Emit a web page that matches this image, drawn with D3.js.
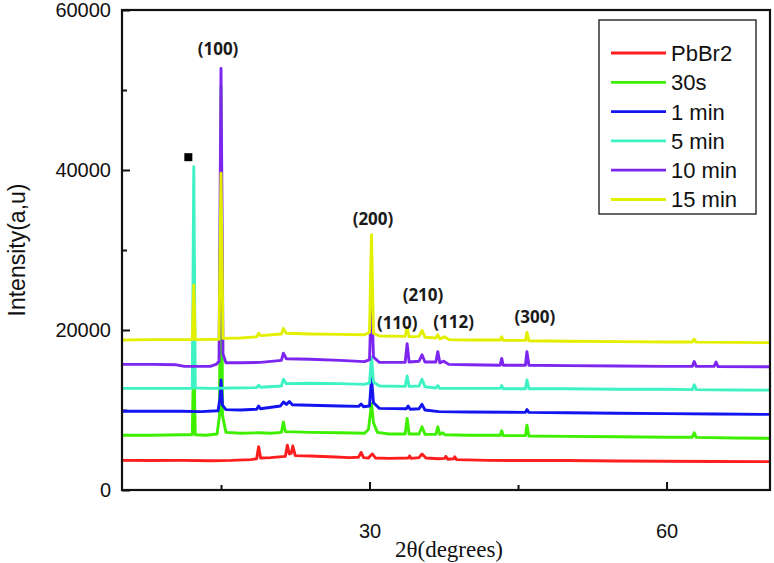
<!DOCTYPE html>
<html>
<head>
<meta charset="utf-8">
<script src="https://cdn.jsdelivr.net/npm/d3@7"></script>
<style>
  body { margin: 0; background: #fff; }
  svg { display: block; }
  .tick text { font-family: "Liberation Sans", Arial, sans-serif; font-size: 20px; fill: #111; }
</style>
</head>
<body>
<svg id="chart" width="774" height="563"></svg>
<script>
// XRD patterns, [2theta, intensity]
const pbbr2 = [
  [5, 3700], [8, 3680], [11, 3700], [14, 3660], [16, 3700], [18.0, 3800], [18.6, 3900], [18.8, 5400], [19.0, 4000],
  [20, 4050], [21.5, 4200], [21.7, 5600], [21.9, 4500], [22.1, 4600], [22.25, 5500], [22.5, 4300], [24, 4250],
  [26, 4150], [28, 4050], [28.9, 4100], [29.15, 4700], [29.4, 4050], [29.9, 4000], [30.1, 4300], [30.3, 4500],
  [30.6, 4000], [32, 3950], [33.9, 4000], [34.05, 4250], [34.2, 3950], [35.0, 4050], [35.3, 4500], [35.7, 4000],
  [37.0, 3900], [37.6, 3950], [37.7, 4200], [37.9, 3850], [38.5, 3900], [38.6, 4150], [38.8, 3800], [42, 3700],
  [50, 3680], [55, 3620], [60, 3600], [65, 3560], [70.5, 3550],
]
const s30 = [
  [5, 6850], [8, 6850], [11, 6900], [12.1, 6900], [12.25, 18000], [12.4, 6900], [13.5, 6850], [14.6, 7000],
  [14.85, 9300], [15.0, 50400], [15.15, 9300], [15.5, 7200], [17, 7100], [18.8, 7150], [20, 7100], [21.1, 7200],
  [21.3, 8500], [21.5, 7300], [24, 7200], [27, 7150], [29.5, 7100], [29.9, 7600], [30.2, 10800], [30.4, 8400],
  [30.8, 7200], [32, 7000], [33.6, 7000], [33.8, 8950], [34, 7000], [35.0, 7000], [35.3, 7900], [35.6, 6950],
  [36.7, 6950], [36.9, 7900], [37.1, 6950], [37.4, 7150], [37.6, 6900], [40, 6850], [43.2, 6850], [43.35, 7400],
  [43.5, 6800], [45.75, 6800], [45.9, 8100], [46.1, 6750], [50, 6700], [55, 6650], [60, 6600], [62.6, 6600],
  [62.8, 7150], [63, 6580], [67, 6500], [70.5, 6450],
]
const min1 = [
  [5, 9850], [8, 9850], [11, 9850], [13, 9800], [14.7, 9900], [14.9, 11500], [15.0, 13750], [15.15, 10600],
  [15.5, 10050], [17, 10000], [18.6, 10100], [18.8, 10500], [19.0, 10150], [21.0, 10500], [21.3, 11000],
  [21.6, 10700], [21.9, 11050], [22.2, 10650], [24, 10600], [27, 10500], [28.9, 10450], [29.15, 10750],
  [29.4, 10400], [30.0, 10500], [30.2, 14000], [30.4, 10900], [31, 10200], [33.7, 10150], [33.9, 10500],
  [34.1, 10100], [35.0, 10150], [35.3, 10700], [35.6, 10000], [37, 9800], [40, 9750], [45.75, 9700],
  [45.9, 10050], [46.1, 9700], [50, 9650], [55, 9600], [60, 9550], [65, 9500], [70.5, 9450],
]
const min5 = [
  [5, 12700], [8, 12700], [11, 12700], [12.1, 12700], [12.25, 40400], [12.4, 12750], [14, 12700], [16, 12750],
  [18.6, 12800], [18.8, 13100], [19.0, 12850], [21.1, 13000], [21.3, 13850], [21.6, 13300], [24, 13350],
  [27, 13300], [29.5, 13200], [30.0, 13400], [30.2, 16600], [30.4, 13500], [31, 13000], [33.6, 12950],
  [33.8, 14250], [34.0, 12950], [35.0, 13000], [35.3, 13850], [35.6, 12900], [36.7, 12750], [36.9, 13050],
  [37.1, 12700], [40, 12700], [43.2, 12700], [43.35, 13050], [43.5, 12650], [45.75, 12650], [45.9, 13750],
  [46.1, 12650], [50, 12650], [55, 12600], [60, 12600], [62.6, 12550], [62.8, 13150], [63, 12550], [67, 12500],
  [70.5, 12480],
]
const min10 = [
  [5, 15700], [8, 15700], [10.5, 15650], [11.3, 15450], [13.9, 15450], [14.5, 15700], [14.8, 16100],
  [15.0, 52700], [15.12, 32000], [15.2, 17000], [15.5, 15900], [17, 15900], [19, 15950], [21.1, 16200],
  [21.3, 17100], [21.6, 16400], [24, 16350], [27, 16200], [29.5, 16050], [30.0, 16300], [30.2, 24500],
  [30.4, 16600], [31, 15950], [33.6, 15950], [33.8, 18300], [34.0, 16000], [35.0, 16100], [35.3, 16900],
  [35.6, 16000], [36.7, 16000], [36.9, 17300], [37.1, 15900], [37.5, 16100], [38, 15700], [40, 15650],
  [43.2, 15600], [43.35, 16450], [43.5, 15600], [45.75, 15600], [45.9, 17300], [46.1, 15600], [50, 15550],
  [55, 15500], [60, 15450], [62.6, 15450], [62.8, 16050], [63, 15450], [64.8, 15450], [65, 16000], [65.2, 15420],
  [70.5, 15400],
]
const min15 = [
  [5, 18750], [8, 18800], [11, 18800], [12.1, 18800], [12.25, 25600], [12.4, 18800], [14.8, 18850],
  [15.0, 39600], [15.2, 18950], [17, 19000], [18.6, 19150], [18.8, 19600], [19.0, 19300], [21.1, 19500],
  [21.3, 20200], [21.6, 19600], [24, 19500], [27, 19450], [29.5, 19400], [30.0, 19700], [30.2, 31900],
  [30.4, 19600], [31, 19250], [33.6, 19200], [33.8, 20300], [34.0, 19150], [35.0, 19200], [35.3, 19950],
  [35.6, 19100], [36.7, 19000], [36.9, 19400], [37.1, 18900], [37.6, 19150], [38, 18800], [40, 18750],
  [43.2, 18750], [43.35, 19150], [43.5, 18700], [45.75, 18700], [45.9, 19700], [46.1, 18650], [50, 18600],
  [55, 18550], [60, 18500], [62.6, 18500], [62.8, 18850], [63, 18480], [67, 18450], [70.5, 18420],
]

const seriesData = [pbbr2, s30, min1, min5, min10, min15]
const seriesLabels = ['PbBr2', '30s', '1 min', '5 min', '10 min', '15 min']
const seriesColors = ['#ff1e1e', '#3ef000', '#1414f0', '#3ff2c4', '#7d26f0', '#e2f000']

const xMajorTicks = [30, 60]
const xMinorTicks = [15, 45]
const yMajorTicks = [0, 20000, 40000, 60000]
const yMinorTicks = [10000, 30000, 50000]

const peakLabels = [
  { text: '(100)', x: 14.7, y: 55200 },
  { text: '(200)', x: 30.35, y: 34000 },
  { text: '(210)', x: 35.4, y: 24500 },
  { text: '(110)', x: 32.8, y: 20900 },
  { text: '(112)', x: 38.5, y: 21100 },
  { text: '(300)', x: 46.7, y: 21750 },
]
const squareMarker = { x: 11.7, y: 41600 }

const svg = d3.select('#chart')
const margin = { top: 10, right: 4, bottom: 73, left: 122 }
const width = 774
const height = 563
const innerW = width - margin.left - margin.right
const innerH = height - margin.top - margin.bottom

const x = d3.scaleLinear().domain([5, 70.45]).range([0, innerW])
const y = d3.scaleLinear().domain([0, 60000]).range([innerH, 0])

const g = svg.append('g').attr('transform', `translate(${margin.left},${margin.top})`)

// axes (ticks point inward)
const xMajor = g.append('g').attr('transform', `translate(0,${innerH})`)
  .call(d3.axisBottom(x).tickValues(xMajorTicks).tickSize(-8).tickPadding(34).tickFormat(d3.format('d')))
const xMinor = g.append('g').attr('transform', `translate(0,${innerH})`)
  .call(d3.axisBottom(x).tickValues(xMinorTicks).tickSize(-5).tickFormat(''))
const yMajor = g.append('g')
  .call(d3.axisLeft(y).tickValues(yMajorTicks).tickSize(-8).tickPadding(11).tickFormat(d3.format('d')))
const yMinor = g.append('g')
  .call(d3.axisLeft(y).tickValues(yMinorTicks).tickSize(-5).tickFormat(''))

;[xMajor, xMinor, yMajor, yMinor].forEach((a) => {
  a.select('.domain').remove()
  a.selectAll('.tick line').attr('stroke', '#111').attr('stroke-width', 2)
})

// traces
const line = d3.line().x((d) => x(d[0])).y((d) => y(d[1]))
g.append('g')
  .selectAll('path')
  .data(seriesData)
  .join('path')
  .attr('fill', 'none')
  .attr('stroke', (d, i) => seriesColors[i])
  .attr('stroke-width', 2.9)
  .attr('stroke-linejoin', 'round')
  .attr('d', line)

// frame
g.append('rect')
  .attr('x', 0).attr('y', 0)
  .attr('width', innerW).attr('height', innerH)
  .attr('fill', 'none').attr('stroke', '#111').attr('stroke-width', 2.2)

// peak labels
g.append('g')
  .selectAll('text')
  .data(peakLabels)
  .join('text')
  .attr('x', (d) => x(d.x))
  .attr('y', (d) => y(d.y))
  .attr('text-anchor', 'middle')
  .attr('dominant-baseline', 'central')
  .style('font-family', '"Open Sans", sans-serif')
  .style('font-weight', 700)
  .style('font-size', '17px')
  .attr('fill', '#1a1a1a')
  .text((d) => d.text)

g.append('rect')
  .attr('x', x(squareMarker.x) - 4)
  .attr('y', y(squareMarker.y) - 4)
  .attr('width', 8).attr('height', 8)
  .attr('fill', '#000')

// legend
const legend = svg.append('g')
legend.append('rect')
  .attr('x', 599).attr('y', 20).attr('width', 157).attr('height', 194)
  .attr('fill', '#fff').attr('stroke', '#333').attr('stroke-width', 1.5)
const item = legend.selectAll('g.item')
  .data(seriesLabels)
  .join('g')
  .attr('class', 'item')
  .attr('transform', (d, i) => `translate(611,${53 + i * 29.3})`)
item.append('line')
  .attr('x1', 0).attr('x2', 55)
  .attr('stroke', (d, i) => seriesColors[i])
  .attr('stroke-width', 2.8)
item.append('text')
  .attr('x', 60)
  .attr('dy', '0.36em')
  .style('font-family', '"Liberation Sans", Arial, sans-serif')
  .style('font-size', '22px')
  .attr('fill', '#111')
  .text((d) => d)

// axis titles
svg.append('text')
  .attr('transform', `translate(17,${margin.top + innerH / 2}) rotate(-90)`)
  .attr('text-anchor', 'middle')
  .attr('dominant-baseline', 'central')
  .style('font-family', '"Liberation Sans", Arial, sans-serif')
  .style('font-size', '23px')
  .attr('fill', '#111')
  .text('Intensity(a,u)')

svg.append('text')
  .attr('x', 449)
  .attr('y', 549)
  .attr('text-anchor', 'middle')
  .attr('dominant-baseline', 'central')
  .style('font-family', '"Liberation Serif", "Times New Roman", serif')
  .style('font-size', '23px')
  .attr('fill', '#111')
  .text('2θ(degrees)')
</script>
</body>
</html>
